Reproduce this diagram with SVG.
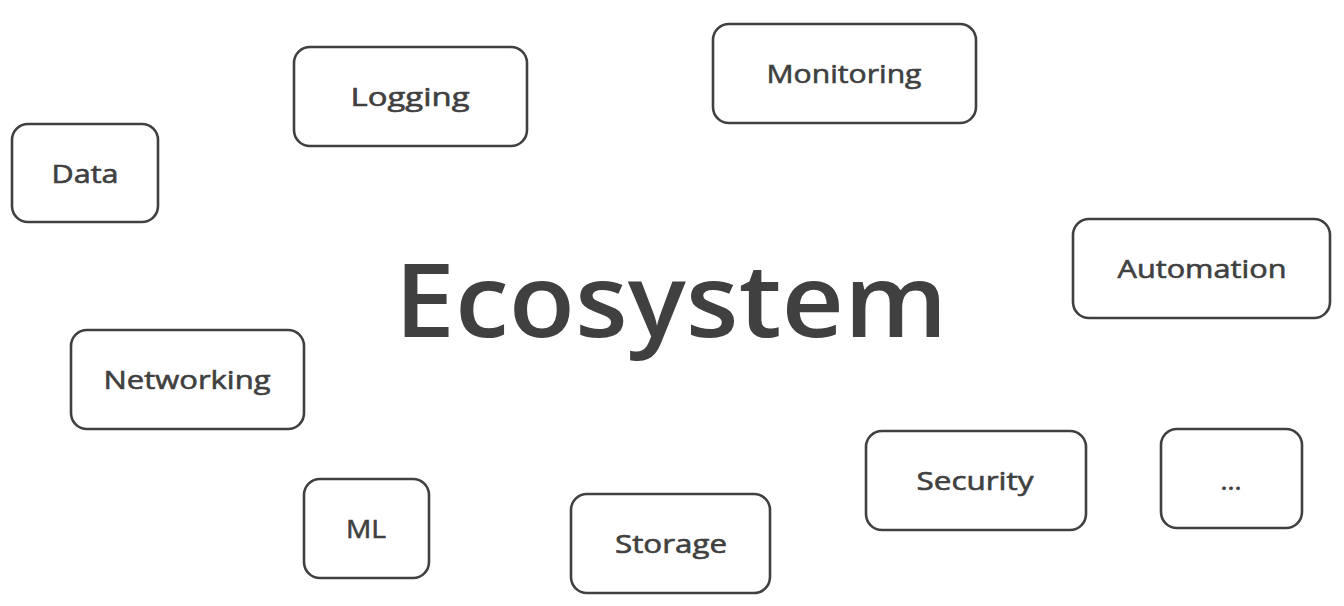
<svg xmlns="http://www.w3.org/2000/svg" width="1344" height="606" viewBox="0 0 1344 606">
<style>
.box{fill:#fff;stroke:#404040;stroke-width:2.6}
.lbl{font-family:"Open Sans","Liberation Sans",sans-serif;font-size:26px;font-weight:400;fill:#404040;stroke:#404040;stroke-width:0.6;text-anchor:middle}
.title{font-family:"Open Sans","Liberation Sans",sans-serif;font-size:102px;font-weight:600;fill:#404040;text-anchor:middle}
</style>
<rect width="1344" height="606" fill="#fff"/>
<g id="connectors"/>
<g id="title"><text class="title" x="671" y="337" textLength="553" lengthAdjust="spacingAndGlyphs">Ecosystem</text></g>
<g id="data"><rect class="box" x="12" y="124" width="146" height="98" rx="16"/><text class="lbl" x="85" y="183" textLength="67" lengthAdjust="spacingAndGlyphs">Data</text></g>
<g id="logging"><rect class="box" x="294" y="47" width="233" height="99" rx="16"/><text class="lbl" x="410" y="106" textLength="119" lengthAdjust="spacingAndGlyphs">Logging</text></g>
<g id="monitoring"><rect class="box" x="713" y="24" width="263" height="99" rx="16"/><text class="lbl" x="844" y="83" textLength="155" lengthAdjust="spacingAndGlyphs">Monitoring</text></g>
<g id="automation"><rect class="box" x="1073" y="219" width="257" height="99" rx="16"/><text class="lbl" x="1202" y="278" textLength="169" lengthAdjust="spacingAndGlyphs">Automation</text></g>
<g id="networking"><rect class="box" x="71" y="330" width="233" height="99" rx="16"/><text class="lbl" x="187" y="389" textLength="167" lengthAdjust="spacingAndGlyphs">Networking</text></g>
<g id="ml"><rect class="box" x="304" y="479" width="125" height="99" rx="16"/><text class="lbl" x="366" y="538" textLength="40" lengthAdjust="spacingAndGlyphs">ML</text></g>
<g id="storage"><rect class="box" x="571" y="494" width="199" height="99" rx="16"/><text class="lbl" x="671" y="553" textLength="112" lengthAdjust="spacingAndGlyphs">Storage</text></g>
<g id="security"><rect class="box" x="866" y="431" width="220" height="99" rx="16"/><text class="lbl" x="975" y="490" textLength="117" lengthAdjust="spacingAndGlyphs">Security</text></g>
<g id="more"><rect class="box" x="1161" y="429" width="141" height="99" rx="16"/><text class="lbl" x="1231" y="490" textLength="21" lengthAdjust="spacingAndGlyphs">...</text></g>
</svg>
